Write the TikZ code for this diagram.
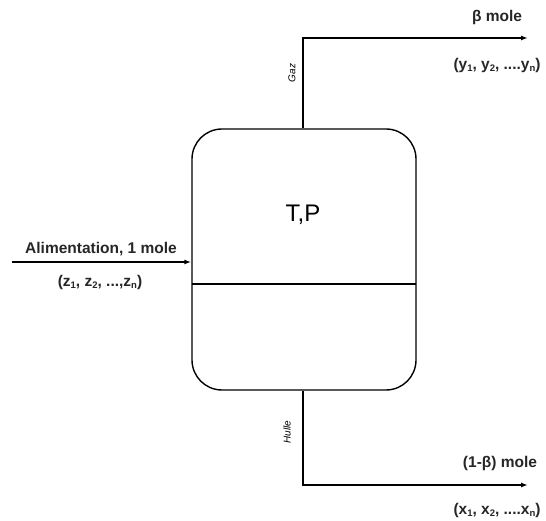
\documentclass[tikz,border=0pt]{standalone}
\usepackage{fontspec}
\setmainfont{Liberation Sans}
\usetikzlibrary{arrows.meta}
\newcommand{\subx}[1]{\raisebox{-0.35ex}{\fontsize{9.5}{9.5}\selectfont #1}}
\begin{document}
\begin{tikzpicture}[x=1pt,y=-1pt,
  vessel/.style={draw, line width=1.4pt, rounded corners=30pt, minimum width=224pt, minimum height=261pt, inner sep=0pt},
  pipe/.style={line width=1.6pt, line join=miter},
  flow/.style={pipe, -{Latex[length=7pt,width=5pt]}},
  lbl/.style={font=\fontsize{15.5}{17}\selectfont\bfseries, text=black!85, inner sep=0pt},
  tag/.style={font=\fontsize{10}{11}\selectfont\itshape, rotate=90, inner sep=0pt}]
\useasboundingbox (0,0) rectangle (546,521);
\node[vessel] (v) at (304,259.5) {};
\node[font=\fontsize{24}{24}\selectfont, inner sep=0pt] (tp) at (303,215) {T,P};
\coordinate (dl) at (192,284);
\coordinate (dr) at (416,284);
\draw[line width=1.4pt] (dl) -- (dr);
% feed
\coordinate (fin) at (12,262);
\draw[flow] (fin) -- (fin -| v.west);
\node[lbl] (alim) at (101,249) {Alimentation, 1 mole};
\node[lbl] (zz) at (100,282) {(z\subx{1}, z\subx{2}, ...,z\subx{n})};
% gas
\coordinate (gc) at (303,38);
\coordinate (gout) at (528,38);
\draw[flow] (v.north -| gc) -- (gc) -- (gout);
\node[lbl] (bm) at (497,17) {β mole};
\node[lbl] (yy) at (497,65) {(y\subx{1}, y\subx{2}, ....y\subx{n})};
\node[tag] (gaz) at (292,73) {Gaz};
% liquid
\coordinate (lc) at (303,485);
\coordinate (lout) at (528,485);
\draw[flow] (v.south -| lc) -- (lc) -- (lout);
\node[lbl] (obm) at (500,463) {(1-β) mole};
\node[lbl] (xx) at (497,510) {(x\subx{1}, x\subx{2}, ....x\subx{n})};
\node[tag] (hul) at (287,432) {Hulle};
\end{tikzpicture}
\end{document}
